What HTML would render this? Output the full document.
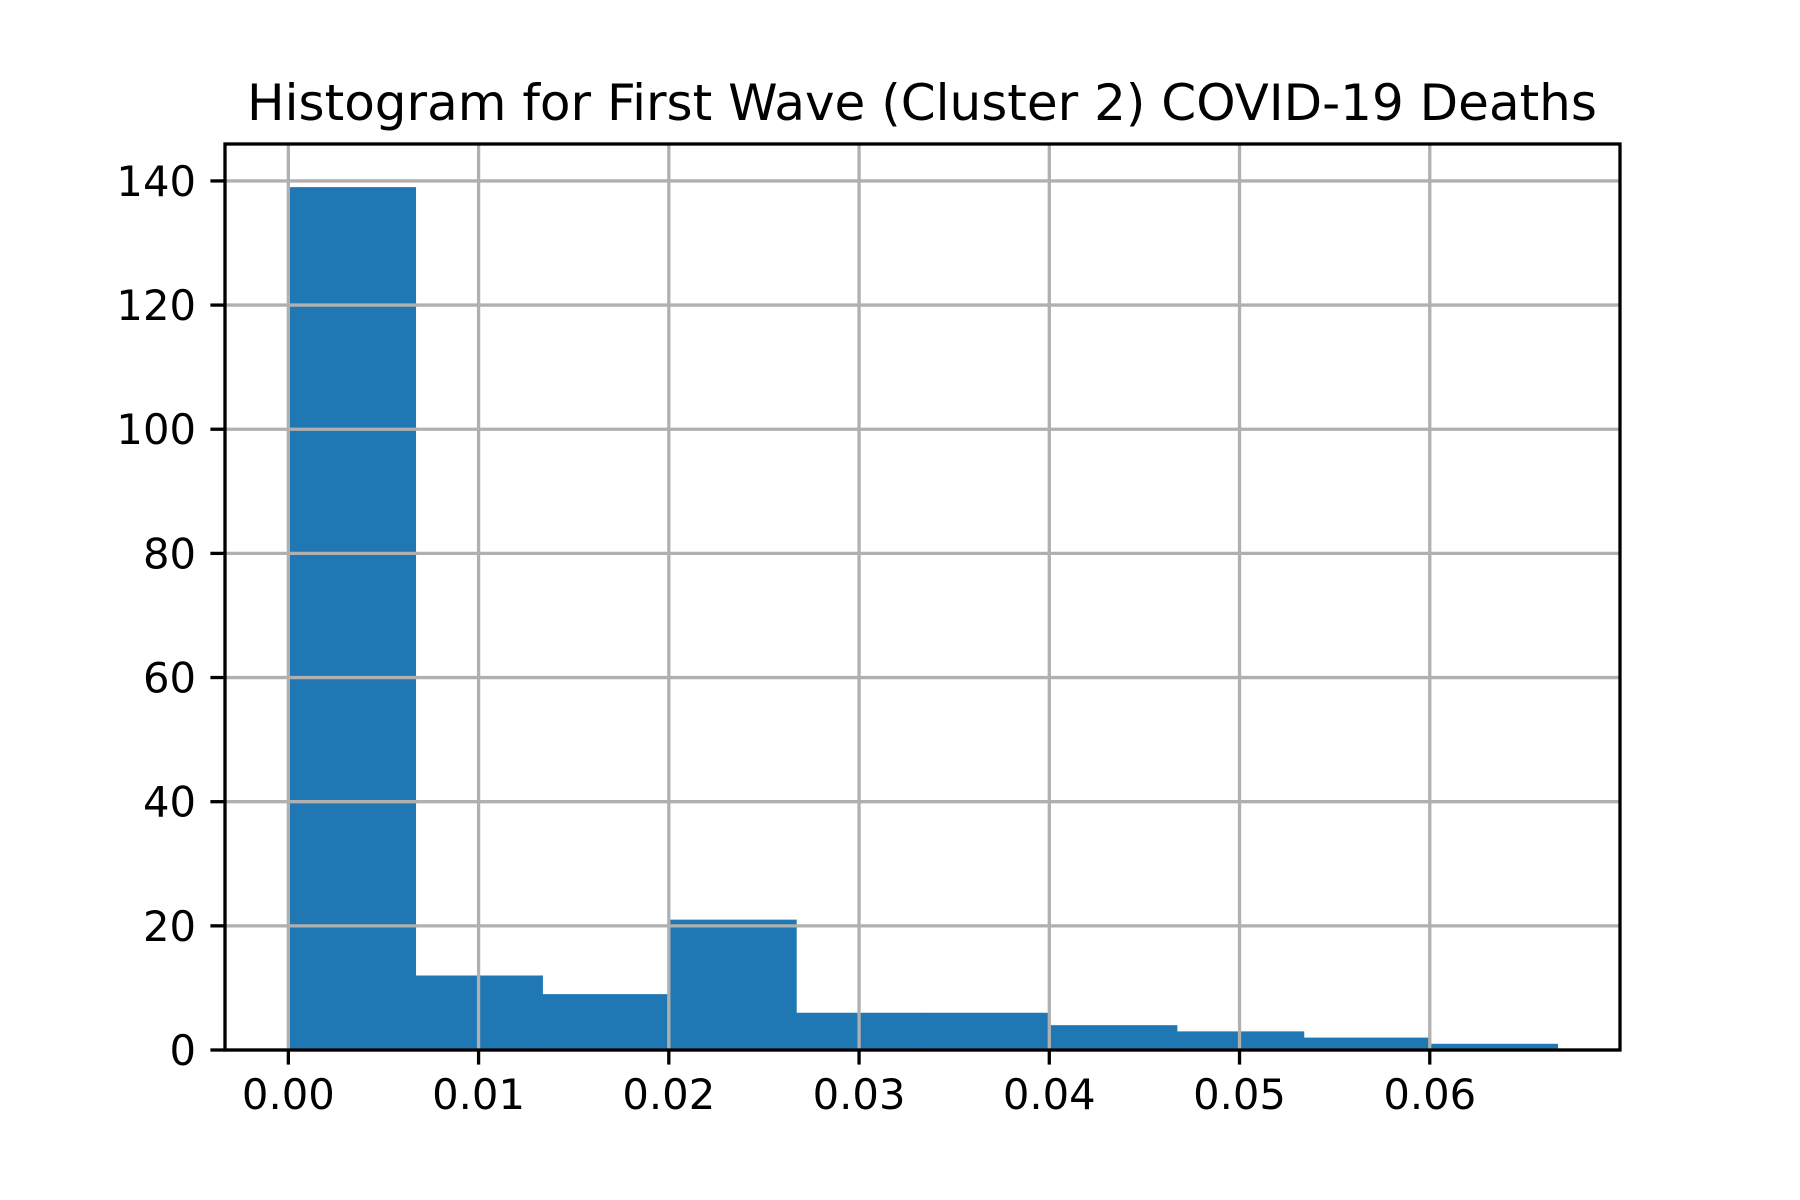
<!DOCTYPE html>
<html><head><meta charset="utf-8"><style>
html,body{margin:0;padding:0;background:#fff;}
svg{display:block;}
text{font-family:"DejaVu Sans","Liberation Sans",sans-serif;fill:#000;}
</style></head><body>
<svg id="chart" width="1800" height="1200" viewBox="0 0 1800 1200">
<rect width="1800" height="1200" fill="#fff"/>
<text x="922" y="120" font-size="50" text-anchor="middle">Histogram for First Wave (Cluster 2) COVID-19 Deaths</text>
<g id="bars"></g><g id="grid"></g><g id="axes"></g>
</svg>
<script>
const binStart = 0;
const binMax = 0.0667;
const counts = [139, 12, 9, 21, 6, 6, 4, 3, 2, 1];
const xTicks = [0, 0.01, 0.02, 0.03, 0.04, 0.05, 0.06];
const xTickLabels = ["0.00", "0.01", "0.02", "0.03", "0.04", "0.05", "0.06"];
const yTicks = [0, 20, 40, 60, 80, 100, 120, 140];

const L = 225, R = 1620, T = 144, B = 1050;
const xMin = -0.00333, xMax = 0.07;
const yMax = Math.max(...counts) * 1.05;
const xs = v => L + (v - xMin) / (xMax - xMin) * (R - L);
const ys = v => B - v / yMax * (B - T);
const NS = "http://www.w3.org/2000/svg";
function mk(tag, attrs, parent) {
  const e = document.createElementNS(NS, tag);
  for (const k in attrs) e.setAttribute(k, attrs[k]);
  parent.appendChild(e);
  return e;
}
const gb = document.getElementById('bars'), gg = document.getElementById('grid'), ga = document.getElementById('axes');
const w = (binMax - binStart) / counts.length;
counts.forEach((c, i) => {
  const x0 = xs(binStart + i * w), x1 = xs(binStart + (i + 1) * w);
  const r = mk('rect', {x: x0, y: ys(c), width: x1 - x0 + 0.8, height: B - ys(c), fill: '#1f77b4'}, gb);
  
  
});
xTicks.forEach((t, i) => {
  const x = xs(t);
  const g = mk('line', {x1: x, x2: x, y1: T, y2: B, stroke: '#b0b0b0', 'stroke-width': 3.3}, gg);
  
  
  const tk = mk('line', {x1: x, x2: x, y1: B, y2: B + 14.6, stroke: '#000', 'stroke-width': 3.3}, ga);
  
  
  const lb = mk('text', {x: x, y: 1109, 'font-size': 41.7, 'text-anchor': 'middle'}, ga);
  lb.textContent = xTickLabels[i];
  
  
});
yTicks.forEach(t => {
  const y = ys(t);
  const g = mk('line', {x1: L, x2: R, y1: y, y2: y, stroke: '#b0b0b0', 'stroke-width': 3.3}, gg);
  
  
  const tk = mk('line', {x1: L - 14.6, x2: L, y1: y, y2: y, stroke: '#000', 'stroke-width': 3.3}, ga);
  
  
  const lb = mk('text', {x: 196, y: y + 15, 'font-size': 41.7, 'text-anchor': 'end'}, ga);
  lb.textContent = String(t);
  
  
});
const fr = mk('rect', {x: L, y: T, width: R - L, height: B - T, fill: 'none', stroke: '#000', 'stroke-width': 3.3}, ga);


</script>
</body></html>
